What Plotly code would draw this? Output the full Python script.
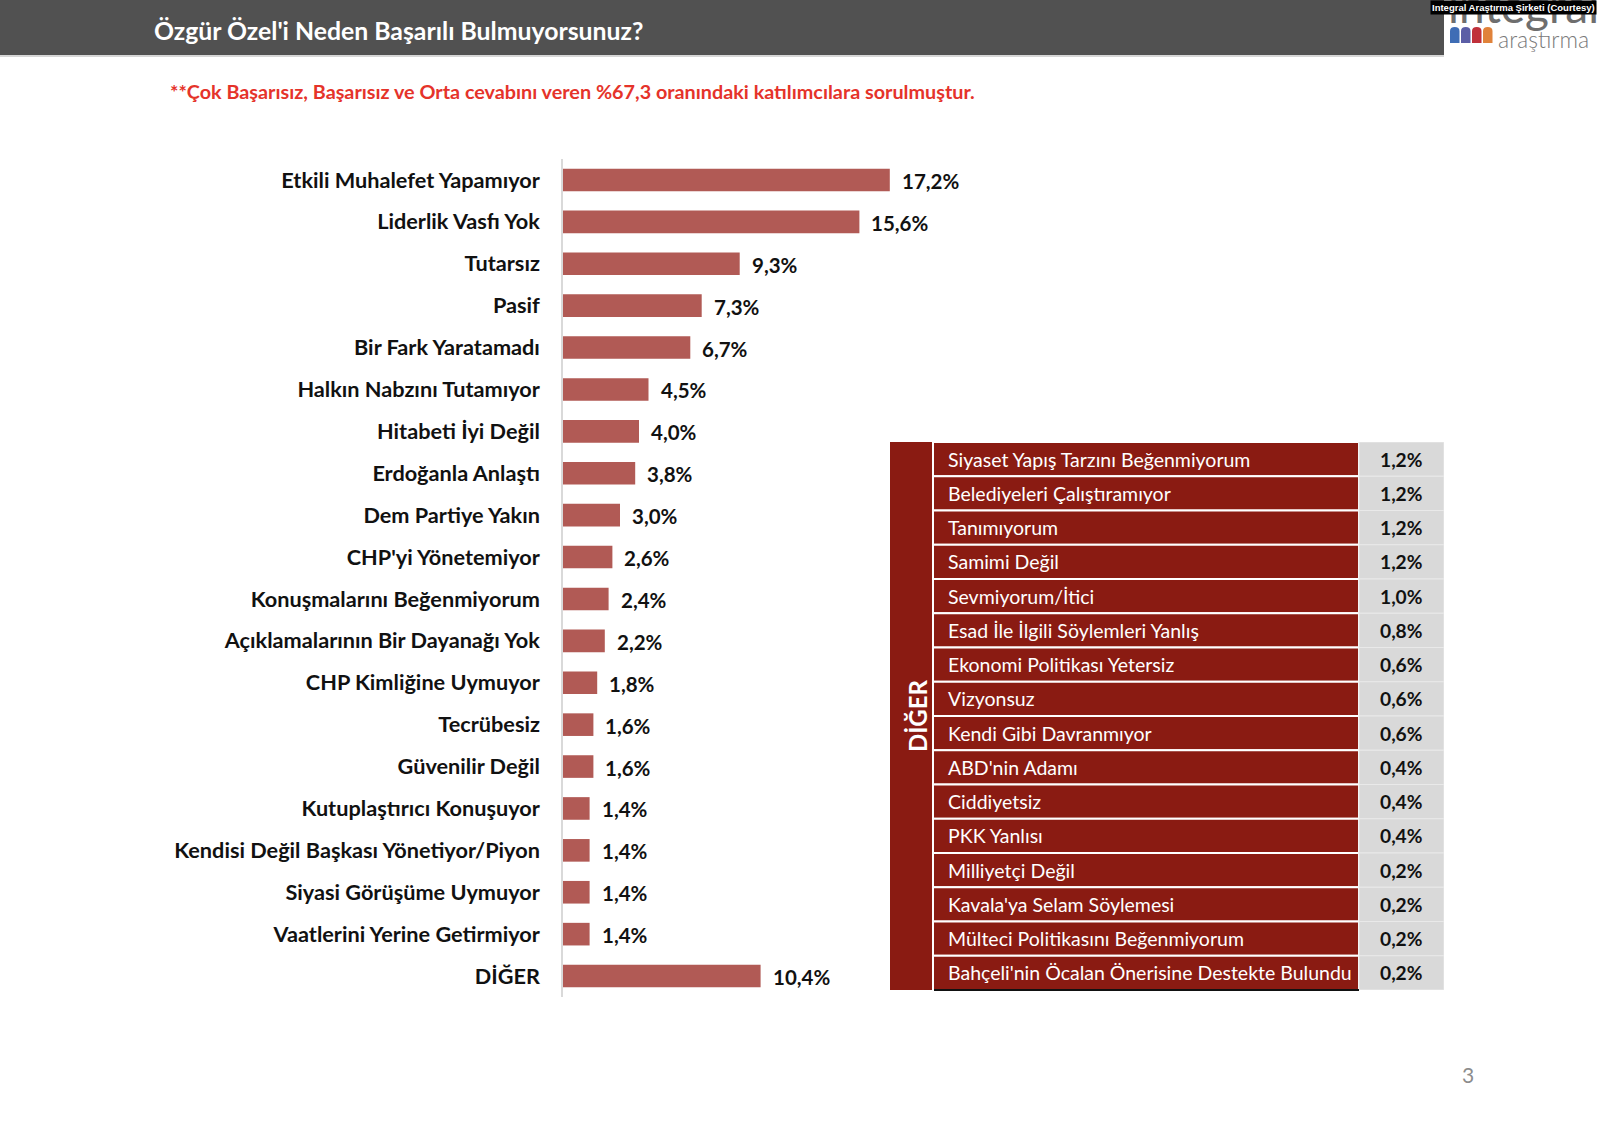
import plotly.graph_objects as go

W, H = 1597, 1127

labels = ["Etkili Muhalefet Yapamıyor", "Liderlik Vasfı Yok", "Tutarsız", "Pasif",
          "Bir Fark Yaratamadı", "Halkın Nabzını Tutamıyor", "Hitabeti İyi Değil",
          "Erdoğanla Anlaştı", "Dem Partiye Yakın", "CHP'yi Yönetemiyor",
          "Konuşmalarını Beğenmiyorum", "Açıklamalarının Bir Dayanağı Yok",
          "CHP Kimliğine Uymuyor", "Tecrübesiz", "Güvenilir Değil",
          "Kutuplaştırıcı Konuşuyor", "Kendisi Değil Başkası Yönetiyor/Piyon",
          "Siyasi Görüşüme Uymuyor", "Vaatlerini Yerine Getirmiyor", "DİĞER"]
values = [17.2, 15.6, 9.3, 7.3, 6.7, 4.5, 4.0, 3.8, 3.0, 2.6, 2.4, 2.2, 1.8,
          1.6, 1.6, 1.4, 1.4, 1.4, 1.4, 10.4]

other_labels = ["Siyaset Yapış Tarzını Beğenmiyorum", "Belediyeleri Çalıştıramıyor",
                "Tanımıyorum", "Samimi Değil", "Sevmiyorum/İtici",
                "Esad İle İlgili Söylemleri Yanlış", "Ekonomi Politikası Yetersiz",
                "Vizyonsuz", "Kendi Gibi Davranmıyor", "ABD'nin Adamı", "Ciddiyetsiz",
                "PKK Yanlısı", "Milliyetçi Değil", "Kavala'ya Selam Söylemesi",
                "Mülteci Politikasını Beğenmiyorum",
                "Bahçeli'nin Öcalan Önerisine Destekte Bulundu"]
other_values = [1.2, 1.2, 1.2, 1.2, 1.0, 0.8, 0.6, 0.6, 0.6, 0.4, 0.4, 0.4,
                0.2, 0.2, 0.2, 0.2]

title = "Özgür Özel'i Neden Başarılı Bulmuyorsunuz?"
subtitle = "**Çok Başarısız, Başarısız ve Orta cevabını veren %67,3 oranındaki katılımcılara sorulmuştur."
other_title = "DİĞER"


def fmt(v):
    return f"{v:.1f}".replace(".", ",") + "%"


def px(x):
    return x / W


def py(y):
    return 1 - y / H


FONT = "Lato"
BAR_COLOR = "#B15A55"
DARK_RED = "#8A1B12"
GRAY_CELL = "#D9D9D9"

# main chart geometry (pixels)
AX_X0, AX_X1 = 563, 963
PX_PER_PCT = 19.0
Y_TOP, Y_BOT = 159, 997

# table geometry (pixels)
T_X0, T_X1 = 890, 1444
T_Y0, T_Y1 = 442, 990
COL1 = 43       # width of merged DİĞER column
COL2_END = 469  # end of label column (relative)

fig = go.Figure()

fig.add_trace(go.Bar(
    x=values, y=labels, orientation="h", width=0.54,
    marker=dict(color=BAR_COLOR, line=dict(width=0)),
    hoverinfo="skip", xaxis="x", yaxis="y", showlegend=False,
))

n = len(other_labels)
fig.add_trace(go.Bar(
    x=[COL2_END - COL1] * n, base=[COL1] * n, y=other_labels, orientation="h", width=1,
    marker=dict(color=DARK_RED, line=dict(color="white", width=2)),
    hoverinfo="skip", xaxis="x2", yaxis="y2", showlegend=False,
))
fig.add_trace(go.Bar(
    x=[(T_X1 - T_X0) - COL2_END] * n, base=[COL2_END] * n, y=other_labels,
    orientation="h", width=1,
    marker=dict(color=GRAY_CELL, line=dict(color="#E9E9E9", width=1)),
    hoverinfo="skip", xaxis="x2", yaxis="y2", showlegend=False,
))

annotations = []
# value labels for bars
for lab, v in zip(labels, values):
    annotations.append(dict(
        x=v, y=lab, xref="x", yref="y", text=fmt(v), showarrow=False,
        xanchor="left", yanchor="middle", xshift=10, yshift=-1,
        font=dict(family=FONT, size=20.5, color="#111111", weight="bold"),
    ))
# table texts
for lab, v in zip(other_labels, other_values):
    annotations.append(dict(
        x=56, y=lab, xref="x2", yref="y2", text=lab, showarrow=False,
        xanchor="left", yanchor="middle",
        font=dict(family=FONT, size=19.5, color="white"),
    ))
    annotations.append(dict(
        x=511, y=lab, xref="x2", yref="y2", text=fmt(v), showarrow=False,
        xanchor="center", yanchor="middle",
        font=dict(family=FONT, size=19.2, color="#111111", weight="bold"),
    ))
# DİĞER vertical
annotations.append(dict(
    x=px(917), y=py(716), xref="paper", yref="paper", text=other_title,
    showarrow=False, textangle=-90, xanchor="center", yanchor="middle",
    font=dict(family=FONT, size=24, color="white", weight="bold"),
))
# title
annotations.append(dict(
    x=px(152), y=py(31), xref="paper", yref="paper", text=title, showarrow=False,
    xanchor="left", yanchor="middle",
    font=dict(family=FONT, size=24.8, color="white", weight="bold"),
))
# subtitle
annotations.append(dict(
    x=px(168), y=py(91), xref="paper", yref="paper", text=subtitle, showarrow=False,
    xanchor="left", yanchor="middle",
    font=dict(family=FONT, size=19.8, color="#E5332A", weight="bold"),
))
# logo
annotations.append(dict(
    x=px(1446), y=py(6), xref="paper", yref="paper", text="integral", showarrow=False,
    xanchor="left", yanchor="middle",
    font=dict(family=FONT, size=46, color="#6E6E6E"),
))
annotations.append(dict(
    x=px(1496), y=py(39), xref="paper", yref="paper", text="araştırma", showarrow=False,
    xanchor="left", yanchor="middle",
    font=dict(family=FONT, size=23, color="#7A7A7A", weight=300),
))
annotations.append(dict(
    x=1, y=1, xref="paper", yref="paper",
    text="Integral Araştırma Şirketi (Courtesy)", showarrow=False,
    xanchor="right", yanchor="top", bgcolor="black", borderpad=1,
    font=dict(family="Liberation Sans", size=9.5, color="white", weight="bold"),
))
# page number
annotations.append(dict(
    x=px(1468), y=py(1074), xref="paper", yref="paper", text="3", showarrow=False,
    xanchor="center", yanchor="middle",
    font=dict(family=FONT, size=21, color="#8C8C8C"),
))

shapes = [
    dict(type="rect", xref="paper", yref="paper", x0=0, x1=px(1444), y0=py(55), y1=1,
         fillcolor="#515151", line=dict(width=0), layer="below"),
    dict(type="line", xref="paper", yref="paper", x0=0, x1=px(1444), y0=py(56), y1=py(56),
         line=dict(color="#C8C8C8", width=1.5)),
    # merged DİĞER column
    dict(type="rect", xref="x2", yref="y2 domain", x0=0, x1=COL1, y0=0, y1=1,
         fillcolor=DARK_RED, line=dict(width=0), layer="below"),
    # bottom black line under label column
    dict(type="line", xref="x2", yref="y2 domain", x0=COL1 + 1, x1=COL2_END, y0=0, y1=0,
         line=dict(color="#111111", width=2)),
]
logo_colors = ["#3F6DB5", "#5B5EA6", "#C0303A", "#E0823A"]
for i, c in enumerate(logo_colors):
    x0 = 1450 + i * 11
    x1 = x0 + 9.5
    yt, yb = 27, 43
    r = 4
    path = (f"M {px(x0)},{py(yb)} L {px(x0)},{py(yt + r)} "
            f"Q {px(x0)},{py(yt)} {px((x0 + x1) / 2)},{py(yt)} "
            f"Q {px(x1)},{py(yt)} {px(x1)},{py(yt + r)} L {px(x1)},{py(yb)} Z")
    shapes.append(dict(type="path", xref="paper", yref="paper", path=path,
                       fillcolor=c, line=dict(width=0)))

fig.update_layout(
    width=W, height=H, margin=dict(l=0, r=0, t=0, b=0),
    paper_bgcolor="white", plot_bgcolor="rgba(0,0,0,0)",
    showlegend=False, barmode="overlay",
    xaxis=dict(domain=[px(AX_X0), px(AX_X1)],
               range=[0, (AX_X1 - AX_X0) / PX_PER_PCT], visible=False, fixedrange=True),
    yaxis=dict(domain=[py(Y_BOT), py(Y_TOP)], range=[len(labels) - 0.5, -0.5],
               type="category", categoryorder="array", categoryarray=labels,
               showline=True, linecolor="#D9D9D9", linewidth=1.5,
               ticks="outside", ticklen=17, tickcolor="rgba(0,0,0,0)",
               showgrid=False, zeroline=False,
               tickfont=dict(family=FONT, size=21.7, color="#111111", weight="bold"),
               anchor="x", fixedrange=True),
    xaxis2=dict(domain=[px(T_X0), px(T_X1)], range=[0, T_X1 - T_X0], visible=False,
                anchor="y2", fixedrange=True),
    yaxis2=dict(domain=[py(T_Y1), py(T_Y0)], range=[n - 0.5, -0.5], type="category",
                categoryorder="array", categoryarray=other_labels, visible=False,
                anchor="x2", fixedrange=True),
    annotations=annotations, shapes=shapes,
)

fig.write_html(
    "out.html",
    config={"displayModeBar": False},
    post_script="document.body.style.margin='0';document.body.style.padding='0';"
                "document.documentElement.style.overflow='hidden';",
)
